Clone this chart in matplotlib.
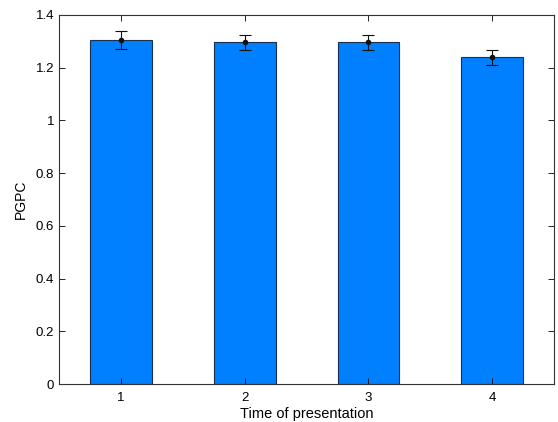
import matplotlib
matplotlib.use('Agg')
import matplotlib.pyplot as plt

# data
times = [1, 2, 3, 4]
pgpc = [1.305, 1.295, 1.295, 1.239]
pgpc_err = [0.033, 0.030, 0.030, 0.028]

plt.rcParams['font.family'] = ['Liberation Sans', 'DejaVu Sans']

fig = plt.figure(figsize=(5.58, 4.22), dpi=100)
ax = fig.add_axes([0.106, 0.090, 0.887, 0.875])

ax.bar(times, pgpc, width=0.5, color='#0080ff', edgecolor='#1a3050', linewidth=0.8)
ax.errorbar(times, pgpc, yerr=pgpc_err, fmt='o', color='#111111', markersize=3,
            elinewidth=0.8, capsize=4, capthick=0.8)

ax.set_xlim(0.5, 4.5)
ax.set_ylim(0, 1.4)
ax.set_xticks(times)
ax.set_yticks([0, 0.2, 0.4, 0.6, 0.8, 1, 1.2, 1.4])
ax.set_yticklabels(['0', '0.2', '0.4', '0.6', '0.8', '1', '1.2', '1.4'])
ax.tick_params(direction='in', length=4, labelsize=9.5, top=True, right=True, width=0.6)
ax.tick_params(axis='x', pad=6)
for s in ax.spines.values():
    s.set_linewidth(0.8)
    s.set_color('#333333')

ax.set_xlabel('Time of presentation', fontsize=10.5, labelpad=2)
ax.set_ylabel('PGPC', fontsize=10, labelpad=6)

fig.savefig('out.png', dpi=100)
